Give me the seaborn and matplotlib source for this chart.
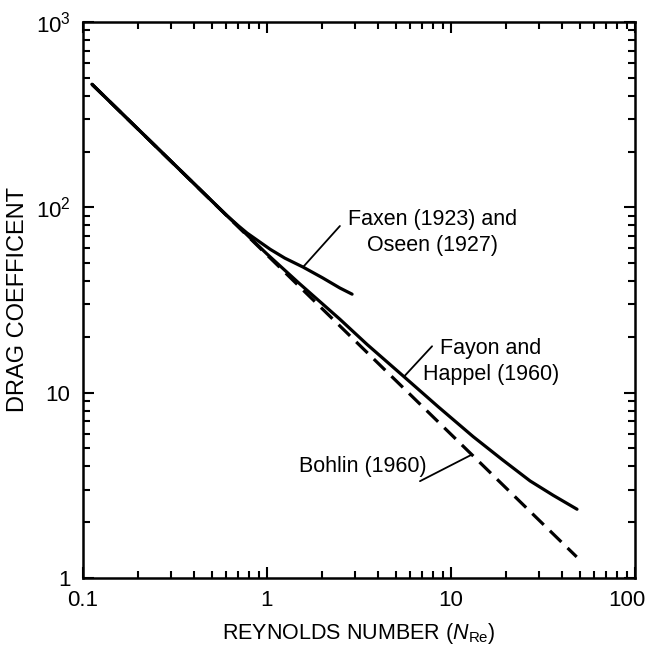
import numpy as np
import pandas as pd
import matplotlib
matplotlib.use("Agg")
import matplotlib.pyplot as plt
import matplotlib.transforms as mtransforms
import seaborn as sns
from matplotlib.ticker import LogLocator, NullFormatter, FixedLocator, FixedFormatter

# ---- data ----
bohlin_re = [0.112, 48.2]
bohlin_cd = [461.0, 1.30]

fayon_re = [0.112, 0.6, 1.0, 1.5, 2.49, 3.5, 5.55, 8.5, 13.2, 19.0, 26.9, 36.0, 48.4]
fayon_cd = [461.0, 91.0, 56.0, 38.8, 24.9, 18.2, 12.2, 8.41, 5.79, 4.35, 3.34, 2.79, 2.35]

faxen_re = [0.112, 0.6, 0.7, 0.78, 1.04, 1.25, 1.57, 2.0, 2.49, 2.9]
faxen_cd = [461.0, 91.0, 79.4, 72.6, 59.4, 53.2, 47.6, 41.7, 36.7, 34.0]

x_ticks = [0.1, 1, 10, 100]
x_ticklabels = ["0.1", "1", "10", "100"]
y_ticks = [1, 10, 100, 1000]
y_ticklabels = ["1", "10", r"$10^2$", r"$10^3$"]

labels = {
    "faxen": "Faxen (1923) and\nOseen (1927)",
    "fayon": "Fayon and\nHappel (1960)",
    "bohlin": "Bohlin (1960)",
}

# ---- style ----
sns.set_theme(style="ticks")
plt.rcParams["font.family"] = ["Liberation Sans", "DejaVu Sans"]
plt.rcParams["mathtext.fontset"] = "custom"
plt.rcParams["mathtext.rm"] = "Liberation Sans"
plt.rcParams["mathtext.it"] = "Liberation Sans:italic"
plt.rcParams["mathtext.bf"] = "Liberation Sans:bold"
plt.rcParams["text.color"] = "black"
plt.rcParams["axes.labelcolor"] = "black"
plt.rcParams["xtick.color"] = "black"
plt.rcParams["ytick.color"] = "black"

fig = plt.figure(figsize=(6.52, 6.45), dpi=100)
ax = fig.add_axes([83 / 652, 1 - 578 / 645, (635 - 83) / 652, (578 - 22) / 645])

df_b = pd.DataFrame({"re": bohlin_re, "cd": bohlin_cd})
df_f = pd.DataFrame({"re": fayon_re, "cd": fayon_cd})
df_x = pd.DataFrame({"re": faxen_re, "cd": faxen_cd})

lw = 2.3
ax.set_xscale("log")
ax.set_yscale("log")
sns.lineplot(data=df_b, x="re", y="cd", ax=ax, color="black", lw=lw,
             dashes=False, estimator=None)
ax.lines[-1].set_dashes((5, 2.7))
sns.lineplot(data=df_f, x="re", y="cd", ax=ax, color="black", lw=lw, estimator=None)
sns.lineplot(data=df_x, x="re", y="cd", ax=ax, color="black", lw=lw, estimator=None)

# pointer lines
plw = 1.3
ax.plot([1.57, 2.49], [47.6, 79.3], color="black", lw=plw)
ax.plot([5.55, 7.89], [12.2, 17.8], color="black", lw=plw)
ax.plot([12.8, 6.78], [4.6, 3.33], color="black", lw=plw)

fs = 15.5
ax.text(7.98, 73.1, labels["faxen"], ha="center", va="center", fontsize=fs,
        linespacing=1.3)
ax.text(16.5, 14.7, labels["fayon"], ha="center", va="center", fontsize=fs,
        linespacing=1.3)
ax.text(3.33, 4.02, labels["bohlin"], ha="center", va="center", fontsize=fs)

ax.set_xlim(0.1, 100)
ax.set_ylim(1, 1000)

ax.xaxis.set_major_locator(FixedLocator(x_ticks))
ax.xaxis.set_major_formatter(FixedFormatter(x_ticklabels))
ax.yaxis.set_major_locator(FixedLocator(y_ticks))
ax.yaxis.set_major_formatter(FixedFormatter(y_ticklabels))
ax.xaxis.set_minor_locator(LogLocator(base=10, subs=np.arange(2, 10), numticks=20))
ax.yaxis.set_minor_locator(LogLocator(base=10, subs=np.arange(2, 10), numticks=20))
ax.xaxis.set_minor_formatter(NullFormatter())
ax.yaxis.set_minor_formatter(NullFormatter())

ax.tick_params(which="both", direction="in", top=True, right=True,
               color="black", width=1.5)
ax.tick_params(which="major", length=8, pad=9, labelsize=16)
ax.tick_params(which="minor", length=5)
for s in ax.spines.values():
    s.set_linewidth(1.8)
    s.set_color("black")

# nudge the "100" label slightly left so it stays inside the canvas
last_tick = ax.xaxis.get_major_ticks()[-1]
last_tick.label1.set_transform(
    last_tick.label1.get_transform()
    + mtransforms.ScaledTranslation(-8 / 100, 0, fig.dpi_scale_trans))

ax.set_xlabel(r"REYNOLDS NUMBER ($\mathit{N}_{\mathrm{Re}}$)", fontsize=fs, labelpad=7)
ax.set_ylabel("DRAG COEFFICENT", fontsize=17, labelpad=5)

fig.savefig("out.png", dpi=100, facecolor="white")
